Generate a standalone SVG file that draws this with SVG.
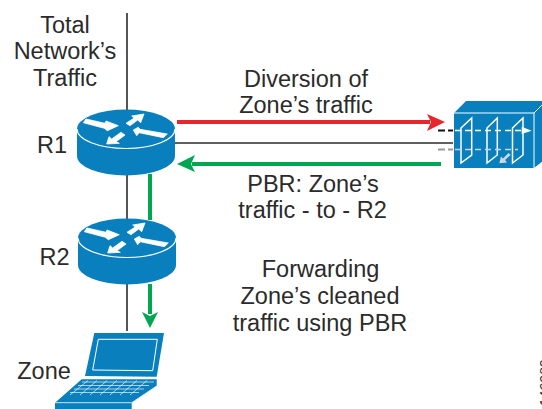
<svg xmlns="http://www.w3.org/2000/svg" width="542" height="409" viewBox="0 0 542 409">
<style>
text{font-family:"Liberation Sans",Arial,sans-serif;font-size:23.5px;fill:#2b2b2b;text-anchor:middle}
.b{stroke:#2b2b2b;stroke-width:1.6;fill:none}
.blue{fill:#0a7fbd}
.wl{stroke:#fff;fill:none}
.w{fill:#fff}
.ra{fill:#fff;stroke:#fff;stroke-width:.8;stroke-linejoin:round}
</style>
<defs>
<g id="rt">
<path class="blue" d="M-49 0A49 19.500 0 0 1 49 0V27A49 19.500 0 0 1 -49 27Z"/>
<path class="wl" stroke-width="1.200" d="M-49 0A49 19.500 0 0 0 49 0"/>
<path class="ra" d="M-42.700 -6.300L-40 -10L-21 -5.700L-20 -8L-7.700 -3.300L-18.700 1.700L-21.700 -.7Z"/>
<path class="ra" d="M7.300 1L12.300 -1.700L14 .3L41.300 5L37.300 8.700L13.300 3.700L10.700 6.700Z"/>
<path class="ra" d="M0 -5.700L4 -3.300L11.700 -9L14.700 -6.300L18 -15L5.700 -13L8.300 -11Z"/>
<path class="ra" d="M-19.300 15L-17 7.700L-14.300 10L-5 3.300L-1 6L-10 12.700L-6.700 14.300Z"/>
</g>
</defs>
<g id="connectors">
<path class="b" d="M127 13V110M127 175V220M127 284V331M175 143H453"/>
<path d="M177 122H430" stroke="#e8262d" stroke-width="4" fill="none"/>
<path d="M427 114L445 122L427 131L431 122Z" fill="#e8262d"/>
<path d="M441 164H192" stroke="#00a651" stroke-width="4" fill="none"/>
<path d="M195 155L177 164L195 172L191 164Z" fill="#00a651"/>
<path d="M150 174V220M150 284V314" stroke="#00a651" stroke-width="4" fill="none"/>
<path d="M142 312L150 328L158 312L150 316Z" fill="#00a651"/>
<path d="M438 130.500H455" stroke="#111" stroke-width="2" stroke-dasharray="7 3" fill="none"/>
<path d="M438 149.500H453" stroke="#999" stroke-width="2" stroke-dasharray="7 3" fill="none"/>
</g>
<g id="R1">
<use href="#rt" x="126" y="129"/>
<text x="52" y="153">R1</text>
</g>
<g id="R2">
<use href="#rt" x="127" y="238"/>
<text x="54.500" y="265">R2</text>
</g>
<g id="firewall">
<path class="blue" d="M454 113L466 101H542V161.700L534 168L534 113Z"/>
<path class="blue" d="M454 113H534V168H454Z"/>
<path d="M454 113H534L542 105M534 113V168" stroke="#fff" stroke-width="1" fill="none"/>
<path d="M453.500 113V168" stroke="#fff" stroke-width="1" fill="none"/>
<path class="wl" stroke-width="1.500" d="M461 128L471.700 118V155L461 163Z M487 128L497.300 118V155L487 163Z M512.500 128L523 118V155L512.500 163Z"/>
<path d="M455 130.500H522" stroke="#fff" stroke-width="1.600" stroke-dasharray="6 4" fill="none"/>
<path d="M521.700 126.700L531.700 130.700L521.700 134Z" class="w"/>
<path d="M455 149.500H518" stroke="#c8d6de" stroke-width="1.600" stroke-dasharray="6 4" fill="none"/>
<path d="M510.700 155L505 160L507 162.500L499.300 163.300L501 156.500L503 158.500L508.500 153Z" fill="#d0d8dd"/>
</g>
<g id="Zone">
<path class="blue" d="M94.300 333L164 333L156.700 376.700L85 376Z"/>
<path class="wl" stroke-width="1" d="M98.300 339.300H157.300L152.700 370.700L92.700 370Z"/>
<path class="blue" d="M81.700 379.300H156.700V386L131.700 403V409H55V402.700Z"/>
<path class="wl" stroke-width="0.800" d="M55 402.700H131.700L156.700 386"/>
<path d="M82 382H154M78 385.500H149M74 389H144M70 392.500H139M88 380.500L70 395M97 380.500L80 395M107 380.500L90 395M117 380.500L100 395M127 380.500L110 395M137 380.500L120 395M147 380.500L130 395" stroke="#fff" stroke-width="0.800" fill="none" opacity=".8"/>
<text x="44" y="379">Zone</text>
</g>
<g id="labels">
<text x="65" y="33">Total</text>
<text x="65" y="59">Network’s</text>
<text x="65" y="86">Traffic</text>
<text x="306" y="87">Diversion of</text>
<text x="306" y="113">Zone’s traffic</text>
<text x="313" y="192">PBR: Zone’s</text>
<text x="312.500" y="218">traffic - to - R2</text>
<text x="320.500" y="277">Forwarding</text>
<text x="320" y="304">Zone’s cleaned</text>
<text x="320" y="331">traffic using PBR</text>
<text transform="translate(550 406) rotate(-90)" style="font-size:14px;text-anchor:start">146089</text>
</g>
</svg>
